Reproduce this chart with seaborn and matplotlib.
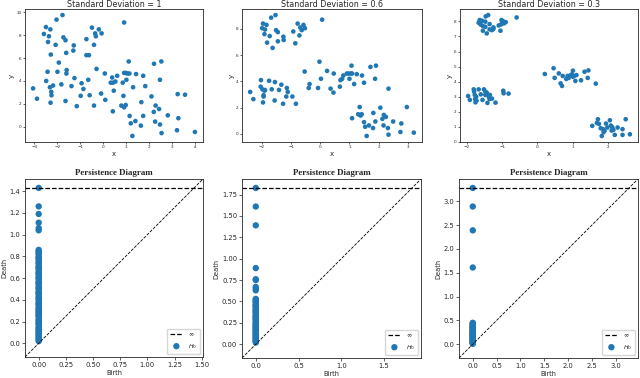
import numpy as np
import pandas as pd
import matplotlib
matplotlib.use("Agg")
import matplotlib.pyplot as plt
from matplotlib.ticker import MultipleLocator
import seaborn as sns

# ---- data ----
std_devs = ["1", "0.6", "0.3"]

x_sd1 = [-3.05, -2.88, -2.58, -2.49, -2.30, -2.40, -2.36, -2.03, -1.77, -2.28,
         -2.07, -1.93, -2.42, -2.48, -2.32, -2.26, -2.25, -2.18, -2.29, -1.99,
         -1.82, -1.73, -1.64, -1.61, -1.59, -1.60, -1.64, -1.38, -1.30, -1.28,
         -1.25, -1.15, -0.98, -0.94, -0.86, -0.73, -0.73, -0.62, -0.65, -0.59,
         -0.49, -0.40, -0.40, -0.35, -0.32, -0.29, -0.19, -0.07, -0.09, 0.07,
         0.09, 0.33, 0.42, 0.46, 0.39, 0.43, 0.53, 0.61, 0.79, 0.88,
         0.91, 0.85, 0.91, 0.98, 1.01, 1.05, 1.11, 1.14, 0.91, 0.98,
         1.15, 1.20, 1.30, 1.40, 1.43, 1.66, 1.64, 1.74, 1.74, 1.83,
         2.10, 2.21, 2.20, 2.28, 2.26, 2.43, 2.47, 2.53, 2.47, 2.54,
         2.81, 3.21, 3.24, 3.27, 3.56, 3.99, 1.27]
y_sd1 = [3.35, 2.45, 8.10, 8.70, 8.50, 7.40, 7.90, 9.35, 9.75, 6.30,
         7.15, 5.60, 4.80, 4.00, 3.45, 3.05, 2.75, 3.60, 2.10, 4.80,
         3.70, 7.80, 7.55, 6.45, 4.95, 4.65, 2.25, 3.55, 6.65, 7.10,
         4.25, 1.80, 2.70, 3.80, 3.30, 7.65, 6.25, 6.25, 4.10, 2.75,
         8.65, 7.15, 1.85, 8.15, 7.90, 5.05, 8.50, 8.15, 2.90, 4.65,
         2.35, 3.85, 1.35, 3.15, 4.30, 3.85, 3.95, 4.45, 1.85, 2.70,
         9.10, 3.85, 4.70, 4.70, 4.10, 4.65, 5.70, 4.65, 1.70, 1.90,
         0.95, 0.30, 3.45, 0.50, 4.60, 2.15, 0.10, 4.45, 0.95, 3.55,
         2.65, 5.50, 1.30, 1.85, 0.45, 1.55, 4.10, 5.70, 0.20, -0.55,
         1.00, -0.30, 2.85, 0.75, 2.80, -0.45, -0.80]

x_sd06 = [-2.41, -2.30, -2.05, -2.04, -1.99, -1.97, -1.95, -1.92, -1.90, -1.95,
          -1.76, -1.67, -1.57, -1.56, -1.42, -1.34, -1.28, -1.17, -1.15, -1.12,
          -0.96, -0.84, -2.00, -1.97, -1.90, -1.85, -1.92, -1.83, -1.74, -1.69,
          -1.54, -1.52, -1.46, -1.46, -1.64, -1.27, -1.26, -0.93, -0.86, -0.78,
          -0.72, -0.69, -0.64, -0.58, -0.53, 0.06, -0.54, -0.40, -0.37, -0.08,
          -0.03, 0.02, 0.23, 0.35, 0.45, 0.46, 0.67, 0.69, 0.75, 0.79,
          0.91, 0.98, 1.00, 1.05, 1.07, 1.09, 1.16, 1.25, 1.43, 1.50,
          1.72, 1.88, 1.91, 2.34, 1.09, 1.30, 1.35, 1.38, 1.42, 1.50,
          1.54, 1.59, 1.67, 1.81, 1.82, 1.89, 2.06, 2.13, 2.18, 2.25,
          2.17, 2.32, 2.34, 2.50, 2.75, 2.78, 2.97, 3.21]
y_sd06 = [3.20, 2.65, 3.60, 4.10, 3.40, 2.40, 2.85, 3.30, 3.35, 2.95,
          4.05, 3.40, 2.55, 3.95, 3.35, 3.75, 2.30, 2.85, 3.50, 3.20,
          2.85, 2.30, 8.05, 8.40, 7.95, 8.30, 7.60, 6.95, 7.45, 8.85,
          9.05, 7.90, 7.75, 7.05, 6.55, 7.40, 7.15, 7.80, 6.90, 8.40,
          7.50, 8.10, 7.90, 8.30, 8.05, 8.70, 4.75, 3.50, 3.80, 3.50,
          5.50, 4.20, 4.80, 3.45, 3.15, 4.60, 3.60, 4.10, 4.20, 4.45,
          4.60, 4.60, 4.20, 4.60, 5.20, 4.60, 3.80, 4.55, 4.45, 3.90,
          5.10, 4.20, 5.20, 3.45, 1.20, 1.50, 2.05, 1.40, 1.50, 0.90,
          0.55, -0.15, 0.65, 0.45, 1.60, 0.95, 2.00, 1.15, 1.45, 1.30,
          0.65, 0.45, -0.05, 0.95, 0.15, 0.80, 2.05, 0.10]

x_sd03 = [-1.67, -1.63, -1.61, -1.64, -1.57, -1.55, -1.48, -1.47, -1.40, -1.55,
          -1.44, -1.48, -1.36, -1.36, -1.29, -1.25, -1.25, -1.10, -1.05, -1.02,
          -1.00, -0.98, -0.95, -0.90, -1.03, -0.59,
          -1.97, -1.92, -1.81, -1.80, -1.78, -1.77, -1.74, -1.73, -1.76, -1.67,
          -1.61, -1.56, -1.52, -1.48, -1.48, -1.44, -1.42, -1.38, -1.35, -1.36,
          -1.29, -1.19, -0.97, -0.96, -0.82,
          0.21, 0.46, 0.49, 0.61, 0.66, 0.70, 0.72, 0.82, 0.86, 0.89,
          0.94, 0.98, 1.01, 1.01, 1.04, 1.08, 1.11, 1.24, 1.34, 1.43,
          1.45, 1.66,
          1.56, 1.69, 1.72, 1.75, 1.80, 1.83, 1.87, 1.88, 1.91, 1.95,
          1.99, 2.06, 2.09, 2.11, 2.13, 2.16, 2.20, 2.28, 2.42, 2.42,
          2.51, 2.63]
y_sd03 = [7.91, 8.02, 7.78, 8.09, 8.04, 7.69, 7.98, 8.33, 8.42, 7.38,
          7.20, 7.64, 7.82, 7.47, 7.42, 7.60, 7.50, 7.73, 7.38, 8.09,
          7.95, 8.02, 7.87, 7.95, 7.80, 8.26,
          3.05, 2.79, 3.49, 3.34, 3.12, 2.85, 3.00, 2.74, 2.63, 3.49,
          3.16, 2.79, 3.49, 3.34, 3.12, 3.27, 2.59, 3.00, 3.12, 2.85,
          2.88, 2.61, 3.40, 3.23, 3.21,
          4.51, 4.89, 4.25, 4.55, 3.89, 3.72, 4.38, 4.18, 4.38, 4.25,
          4.42, 4.49, 4.73, 4.33, 4.38, 4.05, 4.44, 4.09, 4.66, 4.25,
          4.75, 3.87,
          1.07, 1.26, 1.51, 1.20, 0.91, 0.40, 0.85, 0.65, 0.74, 1.22,
          0.96, 1.44, 1.09, 0.76, 0.98, 0.80, 0.47, 0.96, 0.85, 0.47,
          1.51, 0.51]

# H0 death times (birth is 0 for every H0 class); inf = the class that never dies
deaths_sd1 = [np.inf, 1.26, 1.19, 1.11, 1.06, 1.04, 0.86, 0.85, 0.84, 0.83,
              0.82, 0.80, 0.79, 0.78, 0.77, 0.75, 0.74, 0.73, 0.71, 0.70,
              0.69, 0.68, 0.66, 0.65, 0.64, 0.63, 0.61, 0.60, 0.59, 0.57,
              0.56, 0.55, 0.54, 0.52, 0.51, 0.50, 0.48, 0.47, 0.46, 0.45,
              0.43, 0.42, 0.41, 0.40, 0.38, 0.37, 0.36, 0.35, 0.33, 0.32,
              0.31, 0.30, 0.29, 0.28, 0.27, 0.26, 0.25, 0.24, 0.22, 0.21,
              0.20, 0.19, 0.18, 0.17, 0.15, 0.14, 0.13, 0.12, 0.11, 0.10,
              0.09, 0.08, 0.07, 0.06, 0.05, 0.04, 0.03, 0.02]
deaths_sd06 = [np.inf, 1.61, 1.39, 0.89, 0.76, 0.75, 0.67, 0.65, 0.63, 0.53,
               0.52, 0.51, 0.50, 0.49, 0.47, 0.46, 0.45, 0.44, 0.43, 0.41,
               0.40, 0.39, 0.38, 0.37, 0.36, 0.34, 0.33, 0.32, 0.31, 0.30,
               0.29, 0.28, 0.26, 0.25, 0.24, 0.23, 0.22, 0.21, 0.20, 0.19,
               0.18, 0.17, 0.16, 0.15, 0.14, 0.13, 0.12, 0.11, 0.10, 0.09,
               0.08, 0.07, 0.06, 0.05, 0.04, 0.03, 0.02]
deaths_sd03 = [np.inf, 2.89, 2.39, 1.61, 0.45, 0.44, 0.42, 0.41, 0.40, 0.38,
               0.37, 0.36, 0.35, 0.34, 0.33, 0.31, 0.30, 0.29, 0.28, 0.27,
               0.26, 0.25, 0.24, 0.23, 0.22, 0.21, 0.20, 0.19, 0.18, 0.17,
               0.16, 0.15, 0.14, 0.13, 0.12, 0.11, 0.10, 0.09, 0.08, 0.07,
               0.06, 0.05, 0.04, 0.03, 0.02, 0.01]

scatter_data = [(x_sd1, y_sd1), (x_sd06, y_sd06), (x_sd03, y_sd03)]
death_data = [deaths_sd1, deaths_sd06, deaths_sd03]
x_steps = [1, 1, 1]
y_steps = [2, 2, 1]

BLUE = '#1f77b4'

sns.set_style('ticks')
plt.rcParams['font.family'] = ['DejaVu Sans']
plt.rcParams['axes.linewidth'] = 0.6
plt.rcParams['xtick.major.width'] = 0.5
plt.rcParams['ytick.major.width'] = 0.5

W, H = 640, 378
fig = plt.figure(figsize=(6.4, 3.78), dpi=100)


def _box(l, t, r, b):
    return [l / W, 1 - b / H, (r - l) / W, (b - t) / H]


top_boxes = [(25, 9, 203, 142), (242, 9, 422, 142), (460, 9, 638, 142)]
bot_boxes = [(25, 179, 203, 357), (242, 179, 421, 358), (459, 179, 638, 358)]

# top row: the point clouds
for i, ((xs, ys), sd) in enumerate(zip(scatter_data, std_devs)):
    ax = fig.add_axes(_box(*top_boxes[i]))
    df = pd.DataFrame({'x': xs, 'y': ys})
    sns.scatterplot(data=df, x='x', y='y', ax=ax, s=11, color=BLUE,
                    edgecolor='none', linewidth=0)
    ax.set_title(f'Standard Deviation = {sd}', fontsize=5.8, pad=1.2)
    ax.set_xlabel('x', fontsize=5, labelpad=1)
    ax.set_ylabel('y', fontsize=5, labelpad=1)
    ax.xaxis.set_major_locator(MultipleLocator(x_steps[i]))
    ax.yaxis.set_major_locator(MultipleLocator(y_steps[i]))
    ax.tick_params(labelsize=3, length=1.5, pad=1)

# bottom row: persistence diagrams (persim-style layout)
for i, deaths in enumerate(death_data):
    ax = fig.add_axes(_box(*bot_boxes[i]))
    deaths = np.asarray(deaths, dtype=float)
    births = np.zeros_like(deaths)
    finite = deaths[np.isfinite(deaths)]
    lo = min(births.min(), finite.min())
    hi = finite.max()
    buf = (hi - lo) / 5
    down, up = lo - buf / 2, hi + buf
    b_inf = down + (up - down) * 0.95
    deaths_plot = np.where(np.isfinite(deaths), deaths, b_inf)

    ax.plot([down, up], [b_inf, b_inf], '--', c='k', lw=0.9, label=r'$\infty$')
    ax.plot([down, up], [down, up], '--', c='k', lw=0.6)
    pdf = pd.DataFrame({'Birth': births, 'Death': deaths_plot})
    sns.scatterplot(data=pdf, x='Birth', y='Death', ax=ax, s=21, color=BLUE,
                    edgecolor='none', linewidth=0, label=r'$H_0$')
    ax.set_xlim(down, up)
    ax.set_ylim(down, up)
    ax.set_title('Persistence Diagram', fontsize=6.4, fontweight='bold',
                 family=['Liberation Serif', 'DejaVu Serif'], pad=3)
    ax.set_xlabel('Birth', fontsize=4.8, labelpad=1.5)
    ax.set_ylabel('Death', fontsize=4.8, labelpad=1.5)
    ax.tick_params(labelsize=4.9, length=2, pad=1.5)
    ax.legend(loc='lower right', fontsize=4.5, frameon=True, fancybox=True,
              handlelength=2.0, borderpad=0.5, labelspacing=0.6,
              edgecolor='#cccccc')

fig.savefig('out.png', dpi=100)
